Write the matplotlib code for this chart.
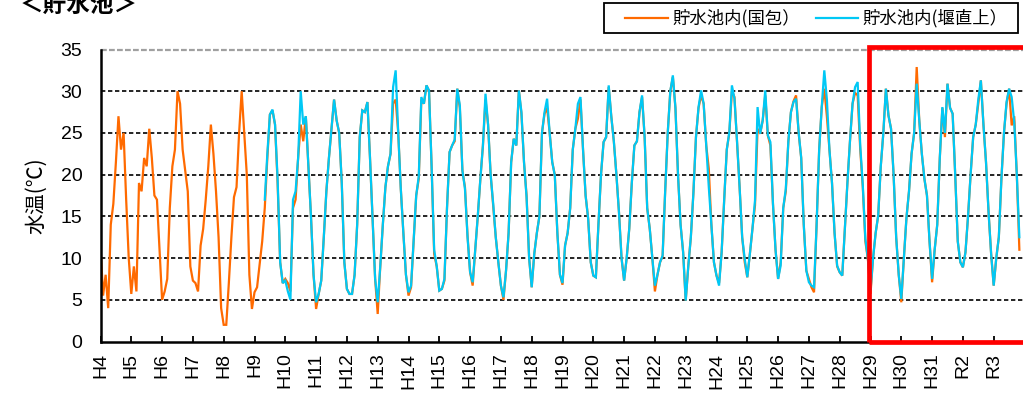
import numpy as np
import matplotlib
matplotlib.use("Agg")
import matplotlib.pyplot as plt
import matplotlib.font_manager as fm
from matplotlib.patches import Rectangle
from matplotlib.lines import Line2D

# ---------------- data ----------------
year_labels = ["H4", "H5", "H6", "H7", "H8", "H9", "H10", "H11", "H12", "H13",
               "H14", "H15", "H16", "H17", "H18", "H19", "H20", "H21", "H22", "H23",
               "H24", "H25", "H26", "H27", "H28", "H29", "H30", "H31", "R2", "R3"]

series_names = ["貯水池内(国包）", "貯水池内(堰直上）"]

# monthly water temperature (°C), one row per year, 貯水池内(国包)
kunikane = [
    [11.5, 5.5, 8, 4, 14, 16.5, 21.5, 27, 23, 25, 17, 10],          # H4
    [5.7, 9, 6, 19, 18, 22, 21, 25.5, 22, 17.5, 17, 11],            # H5
    [5, 6, 7.5, 16, 21, 23, 30, 28.5, 23, 20.5, 18, 9],             # H6
    [7.3, 7, 6, 11.5, 13.5, 17, 21, 26, 22.5, 18, 12.5, 4],         # H7
    [2, 2, 7, 12.5, 17.3, 18.5, 25, 30, 25, 20, 8, 3.9],            # H8
    [5.9, 6.5, 9.3, 12, 16, 22, 27.2, 27.7, 26, 19, 9.5, 7],        # H9
    [7.5, 7, 6, 16, 17, 22, 26, 24, 27, 21, 15, 8],                 # H10
    [3.9, 5.7, 7.3, 12.5, 18, 22, 25.5, 29, 26.5, 25, 19, 9.5],     # H11
    [6.3, 5.7, 5.7, 8, 14, 24.5, 27.7, 27.5, 28.7, 22, 14.7, 7.5],  # H12
    [3.3, 9, 14, 18.5, 21, 22.5, 28.5, 29, 25, 18.3, 13, 8],        # H13
    [5.5, 6.5, 12, 17.5, 19.5, 29, 28.5, 30.7, 30, 21, 10.5, 9],    # H14
    [6.1, 6.3, 7.3, 16, 22.7, 23.5, 24, 30.3, 28, 20.5, 18.5, 12.7],# H15
    [8.3, 6.7, 11, 15, 19.5, 23.5, 29, 26, 20, 16.3, 12.5, 9.5],    # H16
    [6.7, 5.0, 8.5, 13, 21.5, 24.3, 23.5, 30.1, 27.3, 21.5, 17.5, 10],  # H17
    [6.5, 10.5, 13, 15, 25, 27.3, 28, 25, 21.5, 20, 13, 8],         # H18
    [6.8, 11.5, 13, 16, 23, 25.5, 26.7, 29, 23, 17.5, 14.7, 9.5],   # H19
    [7.9, 7.7, 14, 20, 23.9, 24.5, 30.5, 27, 24, 20, 15.5, 10],     # H20
    [7.3, 10, 13.5, 19, 23.5, 24, 27.5, 29.3, 24.5, 16, 13.5, 10],  # H21
    [6, 8, 9.5, 10.2, 18, 25, 30, 31.7, 28, 20, 14, 10.7],          # H22
    [4.9, 9, 12.5, 17.8, 24.5, 28, 29.5, 28.5, 23.5, 20.7, 14, 9.5],# H23
    [7.9, 7, 10.7, 17, 23, 25, 30, 29.3, 24, 18.5, 12.5, 9.5],      # H24
    [7.7, 10.5, 13.5, 16.3, 25.5, 24.9, 26.5, 29.5, 24.7, 23.5, 16.5, 11],  # H25
    [7.5, 9.5, 16, 18, 24, 27.5, 28.8, 29.5, 25, 22, 14, 8.5],      # H26
    [7.5, 6.5, 5.9, 14, 23, 28.1, 30.3, 27, 23, 19, 13, 9],         # H27
    [8.3, 7.9, 13.5, 19, 24, 28.5, 29.8, 29.5, 23, 18.5, 12, 9.8],  # H28
    [5.7, 10, 13, 15.1, 21, 25, 30.3, 27.1, 25.5, 20, 12.5, 8],     # H29
    [4.7, 10, 14.8, 18, 22.5, 25, 32.9, 26.5, 22.5, 19.5, 17.5, 12],# H30
    [7.1, 11, 14, 22, 28, 24.5, 30.9, 28, 27.3, 20, 12, 9.5],       # H31
    [8.9, 10.7, 15, 20, 24.5, 26, 28.5, 31.3, 26, 21.5, 15.5, 10.5],# R2
    [6.7, 10, 12.5, 19.5, 25, 28.5, 30.3, 25.9, 27, 20, 11],        # R3
]

nan = float("nan")
# monthly water temperature (°C), one row per year, 貯水池内(堰直上) from H9
sekichokujo = [
    [nan] * 12, [nan] * 12, [nan] * 12, [nan] * 12, [nan] * 12,     # H4-H8
    [nan, nan, nan, nan, 17, 22.5, 27.2, 27.8, 26, 19.5, 9.5, 7],   # H9
    [7.3, 6, 5, 17, 18, 22, 30, 26, 27, 21, 15, 8],                 # H10
    [4.7, 5.7, 7.3, 12.5, 18, 22, 25.5, 29, 26.5, 25, 19, 9.5],     # H11
    [6.3, 5.7, 5.7, 8, 14, 24.5, 27.7, 27.5, 28.7, 22, 14.7, 7.5],  # H12
    [4.7, 9, 14, 18.5, 21, 22.5, 30.5, 32.5, 25, 18.3, 13, 8],      # H13
    [5.9, 6.7, 12, 17.5, 19.8, 29.3, 28.5, 30.7, 30.1, 21, 11, 9],  # H14
    [6.1, 6.3, 7.5, 16, 22.7, 23.5, 24.2, 30.3, 28.3, 20.5, 18.3, 12.5],  # H15
    [8.3, 7.1, 11, 15.1, 19.5, 23.5, 29.7, 26, 20, 16.5, 12.5, 9.5],# H16
    [6.7, 5.3, 8.5, 13, 21.5, 24.3, 23.5, 30.1, 27.5, 21.5, 17.3, 10],  # H17
    [6.5, 10.5, 13, 15, 25, 27.5, 29.1, 25, 21.5, 19.9, 13, 8],     # H18
    [7, 11.5, 13, 16, 23, 25.5, 28.5, 29.3, 23, 17.5, 14.7, 9.5],   # H19
    [7.9, 7.7, 14, 20, 23.9, 24.5, 30.7, 27, 24, 20, 15.5, 10],     # H20
    [7.3, 10, 13.5, 19, 23.5, 24, 27.5, 29.5, 24.5, 16, 13.5, 10],  # H21
    [6.7, 8, 9.5, 10.3, 18, 25, 30, 31.9, 28, 20, 14, 10.7],        # H22
    [4.9, 9, 12.5, 17.8, 24.5, 28.1, 30.1, 28.5, 23.5, 18.5, 14, 9.5],  # H23
    [7.9, 6.7, 10.7, 17, 23, 25.1, 30.7, 29.1, 24, 18.5, 12.5, 9.9],# H24
    [7.7, 10.5, 13.5, 16.9, 28.1, 24.9, 26.5, 30.1, 24.7, 23.9, 16.5, 11],  # H25
    [7.5, 9.1, 16, 18.3, 24, 27.5, 28.7, 29.1, 25.1, 22, 14, 8.5],  # H26
    [7.1, 6.7, 6.5, 14, 23, 28.1, 32.5, 29, 23, 19, 13, 9.1],       # H27
    [8.3, 7.9, 13.5, 19, 24, 28.5, 30.5, 31.1, 23.5, 18.7, 12.3, 9.9],  # H28
    [6.1, 10, 13, 15.1, 21, 25, 30.3, 27.1, 25.5, 20, 12.5, 8],     # H29
    [5.1, 10, 14.8, 18, 22.5, 25, 30.9, 26.5, 22.5, 19.5, 17.5, 12],# H30
    [7.5, 11, 14, 22, 28.1, 25, 30.9, 28, 27.3, 20, 12, 9.5],       # H31
    [8.9, 10.7, 15, 20, 24.5, 26, 29, 31.3, 26, 21.5, 15.5, 10.5],  # R2
    [6.7, 10, 12.5, 19.5, 25, 28.7, 30.3, 29.3, 26.3, 20, 12.5],    # R3
]

highlight_start = "H29"
y_ticks = [0, 5, 10, 15, 20, 25, 30, 35]

# ---------------- helpers ----------------
def to_series(rows):
    t, v = [], []
    for yi, row in enumerate(rows):
        for m, val in enumerate(row):
            t.append(yi + m / 12.0)
            v.append(val)
    return np.array(t), np.array(v, dtype=float)

t_k, v_k = to_series(kunikane)
t_s, v_s = to_series(sekichokujo)

names = {f.name for f in fm.fontManager.ttflist}
num_font = "Liberation Sans Narrow" if "Liberation Sans Narrow" in names else "Liberation Sans"
jp_font = ["Noto Sans CJK JP", "DejaVu Sans"]

ORANGE = "#FF6A00"
CYAN = "#00C8F5"

# ---------------- figure ----------------
fig = plt.figure(figsize=(10.23, 3.94), dpi=100)
W, H = 1023.0, 394.0
ax = fig.add_axes([100.5 / W, (H - 341.5) / H, (1024.5 - 100.5) / W, 292.0 / H])

# grid lines
for y in y_ticks[1:-1]:
    ax.axhline(y, color="black", lw=1.2, ls=(0, (2.6, 1.6)), zorder=1)
ax.axhline(35, color="#A0A0A0", lw=1.6, ls=(0, (2.6, 1.0)), zorder=1, clip_on=False)

ax.plot(t_k, v_k, color=ORANGE, lw=1.6, zorder=3, solid_joinstyle="miter")
ax.plot(t_s, v_s, color=CYAN, lw=1.6, zorder=4, solid_joinstyle="miter")

ax.set_xlim(0, 30)
ax.set_ylim(0, 35)

ax.set_xticks(np.arange(len(year_labels) + 1))
ax.set_xticklabels(year_labels + [""], rotation=90, fontfamily=num_font, fontsize=14)
ax.set_yticks(y_ticks)
ax.set_yticklabels([str(v) for v in y_ticks], fontfamily=num_font, fontsize=14)
ax.tick_params(axis="x", direction="in", length=4, width=1.3, pad=8, color="black")
ax.tick_params(axis="y", length=0, pad=13)

for s in ["top", "right"]:
    ax.spines[s].set_visible(False)
ax.spines["left"].set_linewidth(1.8)
ax.spines["bottom"].set_linewidth(1.8)
ax.spines["left"].set_zorder(5)
ax.spines["bottom"].set_zorder(5)

ax.set_ylabel("水温(℃)", fontfamily=jp_font, fontsize=15, labelpad=10)

# highlight box
x0 = year_labels.index(highlight_start) - 0.06
rect = Rectangle((x0, 0), 8, 35.26, fill=False, edgecolor="#FF0000", lw=3.4,
                 clip_on=False, zorder=6)
ax.add_patch(rect)

# title (partially cut at the top, as in the source)
fig.text(20 / W, 1 - 5 / H, "＜貯水池＞", fontfamily=jp_font, fontsize=17,
         fontweight="bold", ha="left", va="center")

# legend drawn manually
lx0, lx1, ly0, ly1 = 604, 1018, 3, 33
fig.add_artist(Rectangle((lx0 / W, 1 - ly1 / H), (lx1 - lx0) / W, (ly1 - ly0) / H,
                         transform=fig.transFigure, fill=False, edgecolor="black", lw=1.3))
yc = 1 - 18 / H
for (xa, xb, xt), name, col in zip([(625, 668, 672), (816, 858, 862)], series_names, [ORANGE, CYAN]):
    fig.add_artist(Line2D([xa / W, xb / W], [yc, yc], transform=fig.transFigure, color=col, lw=1.6))
    fig.text(xt / W, yc, name, fontfamily=jp_font, fontsize=12.5, ha="left", va="center")

fig.savefig("out.png", dpi=100)
